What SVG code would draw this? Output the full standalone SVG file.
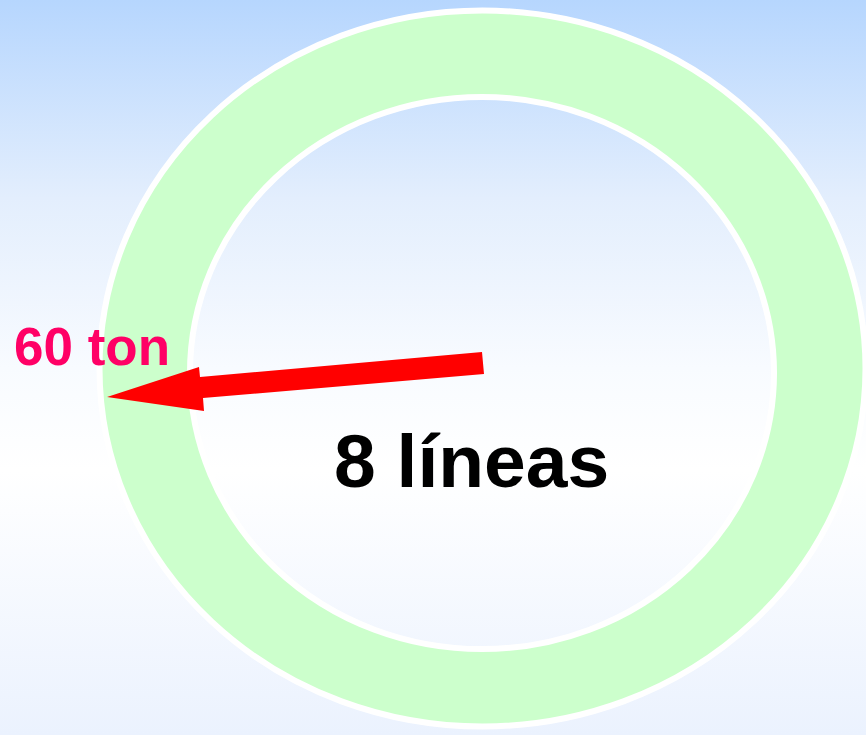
<svg xmlns="http://www.w3.org/2000/svg" width="866" height="735" viewBox="0 0 866 735">
  <defs>
    <linearGradient id="sky" x1="0" y1="0" x2="0" y2="1">
      <stop offset="0" stop-color="#b6d6fe"/>
      <stop offset="0.27" stop-color="#e3eefd"/>
      <stop offset="0.5" stop-color="#f8fbff"/>
      <stop offset="0.64" stop-color="#ffffff"/>
      <stop offset="1" stop-color="#ebf2fe"/>
    </linearGradient>
  </defs>
  <style>
    .ring { fill: #ccffcc; stroke: #ffffff; stroke-width: 6; fill-rule: evenodd; }
    .arrow { fill: #ff0000; }
    .label { font-family: "Liberation Sans", Arial, sans-serif; font-weight: bold; }
  </style>

  <rect width="866" height="735" fill="url(#sky)"/>

  <!-- annulus: outer ellipse minus inner ellipse -->
  <g id="ring">
    <path class="ring" d="M99.5 368.5 A383 358 0 1 0 865.5 368.5 A383 358 0 1 0 99.5 368.5 Z
                          M190 373 A292 276 0 1 1 774 373 A292 276 0 1 1 190 373 Z"/>
  </g>

  <g id="connectors">
    <polygon class="arrow" points="482,352 484,374 203,398 204,411 107,397 199,367 200,377"/>
  </g>

  <g id="load-label">
    <text class="label" x="14" y="365" font-size="53" fill="#ff0066">60 ton</text>
  </g>

  <g id="center-label">
    <text class="label" x="334" y="487" font-size="75" fill="#000000">8 líneas</text>
  </g>
</svg>
